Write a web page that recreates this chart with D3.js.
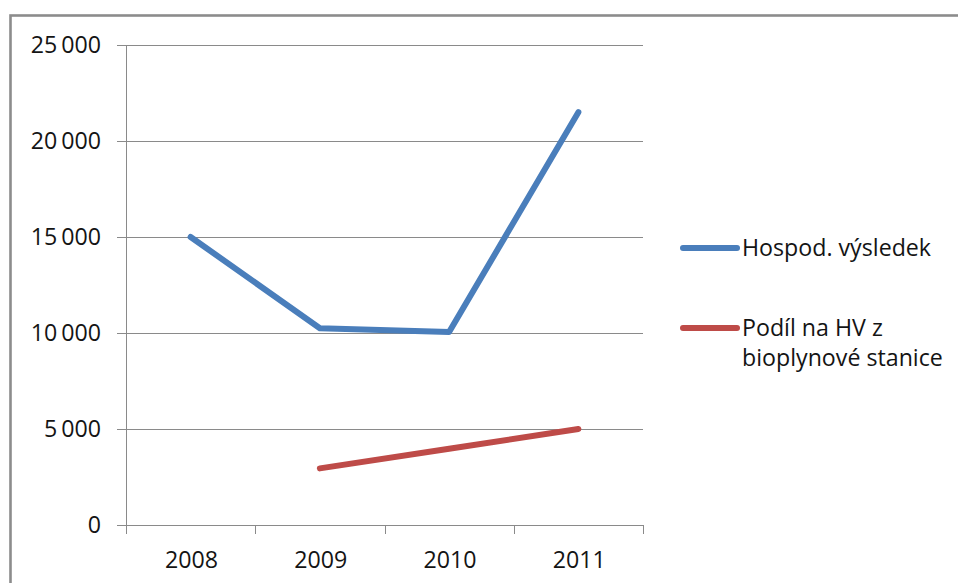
<!DOCTYPE html>
<html>
<head>
<meta charset="utf-8">
<script src="https://cdn.jsdelivr.net/npm/d3@7"></script>
<style>
  html, body { margin: 0; padding: 0; background: #fff; }
  svg { display: block; font-family: "Open Sans", "Noto Sans", sans-serif; }
</style>
</head>
<body>
<svg id="chart" width="958" height="583"></svg>
<script>
// Data
const years = ["2008", "2009", "2010", "2011"];
const hospodVysledek = [15000, 10250, 10050, 21500];
const podilBioplyn = [null, 2950, 3975, 5000];
const yTicks = [0, 5000, 10000, 15000, 20000, 25000];
const seriesNames = ["Hospod. výsledek", "Podíl na HV z|bioplynové stanice"];
const seriesColors = ["#4a7ebb", "#be4b48"];

const svg = d3.select("#chart");

// Outer frame
svg.append("rect")
  .attr("x", 10.5).attr("y", 15.5)
  .attr("width", 1000).attr("height", 1000)
  .attr("fill", "none")
  .attr("stroke", "#8c8c8c")
  .attr("stroke-width", 2.6);

const plot = { left: 126, right: 643, top: 45, bottom: 525 };

const x = d3.scaleBand().domain(years).range([plot.left, plot.right]).padding(0);
const y = d3.scaleLinear().domain([0, 25000]).range([plot.bottom, plot.top]);
const cx = d => x(d) + x.bandwidth() / 2;

const fmt = d3.formatLocale({ decimal: ",", thousands: "\u2009", grouping: [3], currency: ["", " Kč"] }).format(",d");

const gridColor = "#8a8a8a";
const textColor = "#141414";
const fontSize = 23.2;

// Horizontal gridlines (with left tick stubs)
svg.append("g")
  .selectAll("line")
  .data(yTicks)
  .join("line")
  .attr("x1", plot.left - 9)
  .attr("x2", plot.right)
  .attr("y1", d => Math.round(y(d)) + 0.5)
  .attr("y2", d => Math.round(y(d)) + 0.5)
  .attr("stroke", gridColor)
  .attr("stroke-width", 1);

// Y axis line
svg.append("line")
  .attr("x1", plot.left + 0.5).attr("x2", plot.left + 0.5)
  .attr("y1", plot.top).attr("y2", plot.bottom + 9)
  .attr("stroke", gridColor);

// X axis category boundary ticks
const boundaries = years.map(d => x(d)).concat([x(years[years.length - 1]) + x.bandwidth()]);
svg.append("g")
  .selectAll("line")
  .data(boundaries.slice(1))
  .join("line")
  .attr("x1", d => Math.round(d) + 0.5)
  .attr("x2", d => Math.round(d) + 0.5)
  .attr("y1", plot.bottom)
  .attr("y2", plot.bottom + 9)
  .attr("stroke", gridColor);

// Y tick labels
svg.append("g")
  .selectAll("text")
  .data(yTicks)
  .join("text")
  .attr("x", 101)
  .attr("y", d => y(d) + 8)
  .attr("text-anchor", "end")
  .attr("font-size", fontSize)
  .attr("fill", textColor)
  .text(d => fmt(d));

// X tick labels
svg.append("g")
  .selectAll("text")
  .data(years)
  .join("text")
  .attr("x", d => cx(d) + 1)
  .attr("y", 568)
  .attr("text-anchor", "middle")
  .attr("font-size", fontSize)
  .attr("fill", textColor)
  .text(d => d);

// Series lines
const line = d3.line()
  .defined(d => d.v != null)
  .x(d => cx(d.year))
  .y(d => y(d.v));

[hospodVysledek, podilBioplyn].forEach((vals, i) => {
  svg.append("path")
    .datum(years.map((yr, j) => ({ year: yr, v: vals[j] })))
    .attr("d", line)
    .attr("fill", "none")
    .attr("stroke", seriesColors[i])
    .attr("stroke-width", 6)
    .attr("stroke-linecap", "round")
    .attr("stroke-linejoin", "round");
});

// Legend
const legendY = [248, 328];
seriesNames.forEach((name, i) => {
  const g = svg.append("g");
  g.append("line")
    .attr("x1", 683).attr("x2", 737)
    .attr("y1", legendY[i]).attr("y2", legendY[i])
    .attr("stroke", seriesColors[i])
    .attr("stroke-width", 6)
    .attr("stroke-linecap", "round");
  const t = g.append("text")
    .attr("x", 742)
    .attr("y", legendY[i] + 8)
    .attr("font-size", fontSize)
    .attr("fill", textColor);
  name.split("|").forEach((part, k) => {
    t.append("tspan")
      .attr("x", 742)
      .attr("dy", k === 0 ? 0 : 30)
      .text(part);
  });
});
</script>
</body>
</html>
